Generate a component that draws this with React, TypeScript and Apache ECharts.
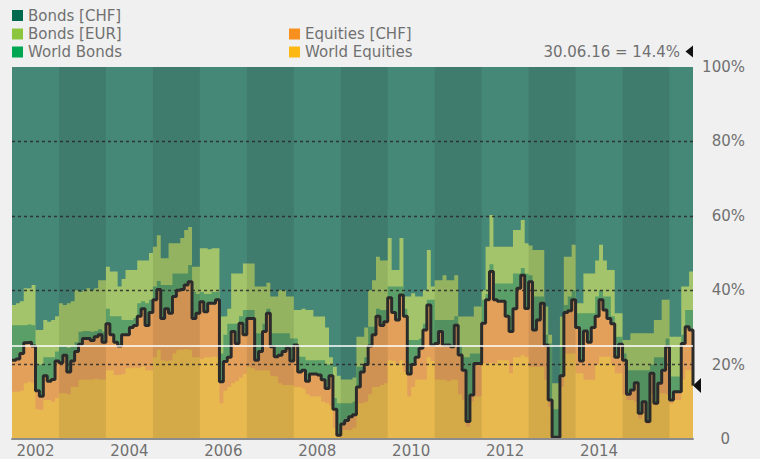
import React, { useEffect, useRef } from "react";
import * as echarts from "echarts";

// ---- data (percent levels, monthly from Jan 2002 to Jun 2016) ----
const startYear = 2002;
const endYear = 2016.5;

// top of Equities [CHF] = total equity exposure (black line)
const equitiesTotal = [
  21.2, 21.5, 23, 25.9, 26, 25, 13, 11.5, 17, 15.5, 16, 21,
  20.5, 22.5, 18, 21, 23.5, 25.5, 27, 27, 26.5, 27.5, 28, 26,
  31, 28, 26, 25, 28, 28, 30, 30.5, 33, 35, 30.5, 34,
  37.4, 40.2, 32.4, 35, 33.8, 38.3, 40, 40.2, 41.4, 42.3, 32.4, 33.8,
  36.9, 34.2, 36.5, 36.5, 37.4, 15.4, 20.8, 22, 28.9, 25.7, 31.1, 28,
  32.4, 32.4, 21.2, 23.5, 28.9, 33.8, 24.8, 22.1, 22.5, 23.5, 24.4, 21,
  25.3, 18, 18.5, 15.5, 17.5, 17.5, 17.2, 15.9, 13.6, 17, 8, 1,
  4, 5, 6, 6.5, 14, 18, 20, 25, 28, 33, 30.5, 31.5,
  38, 34, 32, 38.7, 33, 17.5, 20, 22, 24.4, 29.3, 36, 25.3,
  25.7, 28.9, 25.3, 25.3, 24.8, 30.6, 22.6, 18.5, 4.7, 11.8, 20.3, 20.3,
  31.1, 37.4, 45, 37.4, 37, 37, 33, 28.9, 35, 40.5, 44, 35.1,
  42.3, 29.3, 32, 36.5, 25.3, 10.5, 0.5, 0.5, 17, 34, 34.5, 37.4,
  30, 21, 29, 26, 30, 33, 37.4, 34.7, 32.4, 31, 22, 25.5,
  21.2, 12, 13.2, 15.1, 6.9, 10, 4.7, 17.7, 9.6, 15, 18.5, 24.8,
  10.5, 12.7, 12.7, 25.7, 30.2, 29.3,
];

// top of World Equities
const worldEquities = [
  12.7, 12.7, 13, 15, 15.4, 15, 8, 7.8, 10.5, 10.5, 10, 11,
  12.3, 12.3, 12, 14, 14, 15.9, 16, 15.9, 16, 16.2, 16, 16,
  18.5, 18.5, 17.2, 17.2, 17.5, 19, 19, 19.2, 19, 19.5, 18.5, 18.5,
  22, 24, 21.2, 21, 21.2, 23, 24, 24, 24.2, 24, 22, 22,
  21.5, 22, 22, 22.2, 22, 9.6, 13, 14, 15, 15.5, 16.5, 17.5,
  19.4, 19, 18.5, 18.5, 18.5, 18.5, 17, 16.8, 15, 14.5, 14.5, 14.5,
  14, 14, 13.5, 12, 11.4, 11.4, 11.4, 10, 9.6, 9, 3, 0.5,
  2.4, 2.4, 2.4, 3, 9.6, 9.6, 10, 12, 14, 14, 14.5, 15,
  21.2, 21, 20, 21.2, 18, 11.4, 14, 16, 15.9, 16, 22, 21,
  16, 15.9, 15.9, 15.5, 15.9, 16, 12, 10.5, 3.3, 10, 11.4, 11.4,
  20.3, 20.3, 20.5, 20.3, 21.2, 21.2, 21.2, 17.7, 22, 22, 22.5, 22,
  19.4, 19.4, 19.4, 19.4, 15.9, 8.7, 0.3, 0.3, 14, 23, 23, 23,
  17.7, 17.7, 15.9, 15.9, 15.9, 20, 22.1, 22.1, 22.1, 20, 17.7, 17.7,
  12, 10.5, 10.5, 10, 5.5, 6.9, 4, 12.3, 9, 12.3, 12.3, 12,
  9.5, 10.5, 10.5, 16, 18.5, 18.5,
];

// top of World Bonds
const worldBondsTop = [
  30.6, 30.6, 30.6, 30.6, 30.8, 30.6, 20, 20, 22, 22, 22, 23.5,
  25, 25, 24.5, 25, 26, 28.8, 29, 29, 28.8, 29, 29.5, 28.8,
  35, 33, 33, 33, 32, 32, 32, 32.5, 36.5, 37, 36.5, 37.4,
  41, 42.5, 41.4, 41.4, 41.4, 44.5, 44.5, 44.5, 44.5, 46.8, 39.5, 39,
  39.5, 39, 39, 39.5, 39.5, 23, 28, 31, 31, 31, 33, 34.7,
  34.7, 34.7, 28.4, 28.4, 31, 35, 28.4, 28.4, 28.4, 28.4, 28.4, 27,
  27, 22.1, 22.1, 21.2, 21.2, 21.2, 21.2, 21.2, 20, 20, 11, 9.6,
  9.6, 9.6, 9.6, 10, 19.4, 19.4, 22, 30.2, 30.2, 35, 34.7, 34.7,
  41, 41, 41, 41, 35, 26.6, 26.6, 26.6, 27, 31, 37.4, 37.4,
  32, 32, 32, 32, 32, 33, 25, 22, 22, 23, 23, 23,
  37.4, 39, 47, 41.8, 41.8, 41.8, 41.8, 41.8, 44.5, 44.5, 46, 44.5,
  44, 38.3, 38.3, 38.3, 28, 25.7, 8, 8, 24.8, 36, 38.3, 40,
  33.8, 33.8, 33.8, 33.8, 33.8, 38.3, 40, 38.3, 38.3, 33, 27.5, 27.5,
  23, 18.5, 18.5, 18.5, 18.5, 18.5, 18.5, 20, 22, 22, 22, 27,
  16.8, 16.8, 16.8, 28, 34.7, 34.7,
];

// top of Bonds [EUR]
const bondsEurTop = [
  36, 36.5, 37, 40.5, 40.5, 41.4, 29.3, 29.3, 32, 31.5, 32, 33,
  36.5, 36, 36.5, 37, 40, 39.5, 40, 40.5, 40, 40.5, 42.7, 42.7,
  46.3, 45, 45, 41, 43, 45.4, 45.4, 45.4, 48, 48, 48, 50,
  51.7, 54.8, 48.6, 48.6, 52.6, 52.6, 52.6, 54, 56.2, 57, 46.3, 46.3,
  51.3, 51.3, 51, 51.3, 51.3, 32.9, 33, 35, 44.5, 44.5, 44.5, 47.2,
  47.2, 47.2, 41, 41, 41, 42, 38.3, 38.3, 40, 40, 38.3, 38.3,
  34.7, 34.7, 35, 34.7, 34.7, 32.9, 32.9, 32.9, 30, 22, 19.4, 17,
  16, 16, 16, 16.5, 27.5, 27.5, 30, 40, 42.7, 49, 48, 48,
  54, 45.4, 45.4, 54, 38.3, 38.3, 39.2, 38.3, 38.3, 40, 50.8, 41,
  42.7, 42.7, 44, 42.7, 42.7, 44, 32.9, 32.9, 32.9, 32.9, 35.6, 35.6,
  40, 51.7, 60.2, 51.7, 51.7, 51.7, 51.7, 51.7, 56.2, 56.2, 58.9, 52.6,
  52, 50.8, 50.8, 50.8, 35.6, 28, 15, 15, 32.9, 49, 49, 52.2,
  36.5, 36.5, 44.5, 44.5, 44.5, 48, 52.2, 48, 45.4, 45.4, 33.8, 33.8,
  26.6, 26.6, 28.4, 28.4, 28.4, 28.4, 28.4, 28.4, 32, 32, 37.4, 37.4,
  27.5, 27.5, 27.5, 41, 41, 45,
];

// Bonds [CHF] fills the rest up to 100 %
const bondsChfTop = [100, 100];

const lastDate = "30.06.16";
const lastValue = 14.4;
const gridLevels = [20, 40, 60, 80];
const referenceLevel = 25;
const shadedYears = [2003, 2005, 2007, 2009, 2011, 2013, 2015];
const labelYears = [2002, 2004, 2006, 2008, 2010, 2012, 2014];

const legendItems = [
  { name: "Bonds [CHF]", color: "#006a4e" },
  { name: "Bonds [EUR]", color: "#8cc63e" },
  { name: "World Bonds", color: "#00a650" },
  { name: "Equities [CHF]", color: "#f7901e" },
  { name: "World Equities", color: "#fdb813" },
];

const FONT = '"DejaVu Sans", Verdana, sans-serif';
const TEXT = "#707070";

function toPairs(values: number[], endValue: number) {
  const pts: [number, number][] = values.map((v, i) => [startYear + i / 12, v]);
  pts.push([endYear, endValue]);
  return pts;
}

export default function App() {
  const ref = useRef<HTMLDivElement>(null);

  useEffect(() => {
    if (!ref.current) return;
    const chart = echarts.init(ref.current, undefined, { renderer: "svg" });

    const areaSeries = (
      name: string,
      data: [number, number][],
      color: string,
      z: number
    ) => ({
      name,
      type: "line",
      data,
      step: "end",
      showSymbol: false,
      symbol: "none",
      lineStyle: { width: 0 },
      areaStyle: { color, opacity: 1, origin: "start" },
      itemStyle: { color },
      z,
      silent: true,
    });

    const legendPos = [
      { x: 12, y: 15.5 },
      { x: 12, y: 34 },
      { x: 12, y: 52 },
      { x: 289, y: 34 },
      { x: 289, y: 52 },
    ];
    const legendGraphics: any[] = [];
    legendItems.forEach((it, i) => {
      const p = legendPos[i];
      legendGraphics.push({
        type: "rect",
        shape: { x: p.x, y: p.y - 5.5, width: 11, height: 11 },
        style: { fill: it.color },
        silent: true,
      });
      legendGraphics.push({
        type: "text",
        x: p.x + 16,
        y: p.y,
        style: {
          text: it.name,
          fill: TEXT,
          font: `15px ${FONT}`,
          verticalAlign: "middle",
          align: "left",
        },
        silent: true,
      });
    });

    const option: any = {
      animation: false,
      backgroundColor: "#f0f0f0",
      grid: { left: 12, right: 67, top: 67, bottom: 20, containLabel: false },
      xAxis: {
        type: "value",
        min: startYear,
        max: endYear,
        interval: 0.5,
        z: 10,
        axisLine: { show: true, lineStyle: { color: "#8c8c8c", width: 2 } },
        axisTick: { show: false },
        splitLine: { show: false },
        axisLabel: {
          color: TEXT,
          fontSize: 15,
          fontFamily: FONT,
          margin: 4,
          showMinLabel: true,
          showMaxLabel: true,
          formatter: (v: number) =>
            labelYears.includes(v - 0.5) ? String(v - 0.5) : "",
        },
      },
      yAxis: {
        type: "value",
        position: "right",
        min: 0,
        max: 100,
        interval: 20,
        axisLine: { show: false },
        axisTick: { show: false },
        splitLine: { show: false },
        axisLabel: {
          color: TEXT,
          fontSize: 15,
          fontFamily: FONT,
          align: "right",
          margin: 52,
          formatter: (v: number) => (v === 0 ? "{zero|0}" : v + "%"),
          rich: {
            zero: {
              color: TEXT,
              fontSize: 15,
              fontFamily: FONT,
              padding: [0, 15, 0, 0],
            },
          },
        },
      },
      graphic: [
        ...legendGraphics,
        {
          type: "text",
          x: 680,
          y: 51.5,
          style: {
            text: `${lastDate} = ${lastValue}%`,
            fill: TEXT,
            font: `15px ${FONT}`,
            align: "right",
            verticalAlign: "middle",
          },
          silent: true,
        },
        {
          type: "polygon",
          shape: {
            points: [
              [693, 45.5],
              [685.5, 51.5],
              [693, 57.5],
            ],
          },
          style: { fill: "#111111" },
          silent: true,
        },
      ],
      series: [
        areaSeries(
          "Bonds [CHF]",
          [
            [startYear, bondsChfTop[0]],
            [endYear, bondsChfTop[1]],
          ],
          "#468878",
          2
        ),
        areaSeries(
          "Bonds [EUR]",
          toPairs(bondsEurTop, bondsEurTop[bondsEurTop.length - 1]),
          "#a3c46a",
          2
        ),
        areaSeries(
          "World Bonds",
          toPairs(worldBondsTop, worldBondsTop[worldBondsTop.length - 1]),
          "#5a9e68",
          2
        ),
        areaSeries(
          "Equities [CHF]",
          toPairs(equitiesTotal, equitiesTotal[equitiesTotal.length - 1]),
          "#e3a05b",
          2
        ),
        areaSeries(
          "World Equities",
          toPairs(worldEquities, worldEquities[worldEquities.length - 1]),
          "#e8b94f",
          2
        ),
        {
          name: "bands",
          type: "line",
          data: [
            [startYear, 0],
            [endYear, 0],
          ],
          showSymbol: false,
          symbol: "none",
          lineStyle: { width: 0, opacity: 0 },
          z: 3,
          silent: true,
          markArea: {
            z: 3,
            silent: true,
            itemStyle: { color: "rgba(0,0,0,0.085)", opacity: 1 },
            data: shadedYears.map((y) => [
              { xAxis: y, yAxis: 0 },
              { xAxis: y + 1, yAxis: 100 },
            ]),
          },
          markLine: {
            z: 4,
            silent: true,
            symbol: "none",
            label: { show: false },
            lineStyle: {
              color: "rgba(40,40,40,0.85)",
              type: [3, 3],
              width: 1.3,
            },
            data: gridLevels.map((v) => ({ yAxis: v })),
          },
        },
        {
          name: "Equity exposure",
          type: "line",
          data: toPairs(equitiesTotal, lastValue),
          step: "end",
          showSymbol: false,
          symbol: "none",
          lineStyle: { color: "#2b2b2b", width: 3 },
          z: 5,
          silent: true,
          markPoint: {
            silent: true,
            symbol: "path://M8,0L0,7L8,14Z",
            symbolSize: [8, 15],
            symbolOffset: [4, 0],
            label: { show: false },
            itemStyle: { color: "#111111" },
            data: [{ coord: [endYear, lastValue] }],
          },
        },
        {
          name: "reference",
          type: "line",
          data: [
            [startYear, 0],
            [endYear, 0],
          ],
          showSymbol: false,
          symbol: "none",
          lineStyle: { width: 0, opacity: 0 },
          z: 6,
          silent: true,
          markLine: {
            z: 6,
            silent: true,
            symbol: "none",
            label: { show: false },
            lineStyle: { color: "#ffffff", type: "solid", width: 1.5 },
            data: [{ yAxis: referenceLevel }],
          },
        },
      ],
    };

    chart.setOption(option);
    return () => chart.dispose();
  }, []);

  return (
    <div
      ref={ref}
      style={{
        position: "fixed",
        left: 0,
        top: 0,
        width: 760,
        height: 459,
      }}
    />
  );
}
